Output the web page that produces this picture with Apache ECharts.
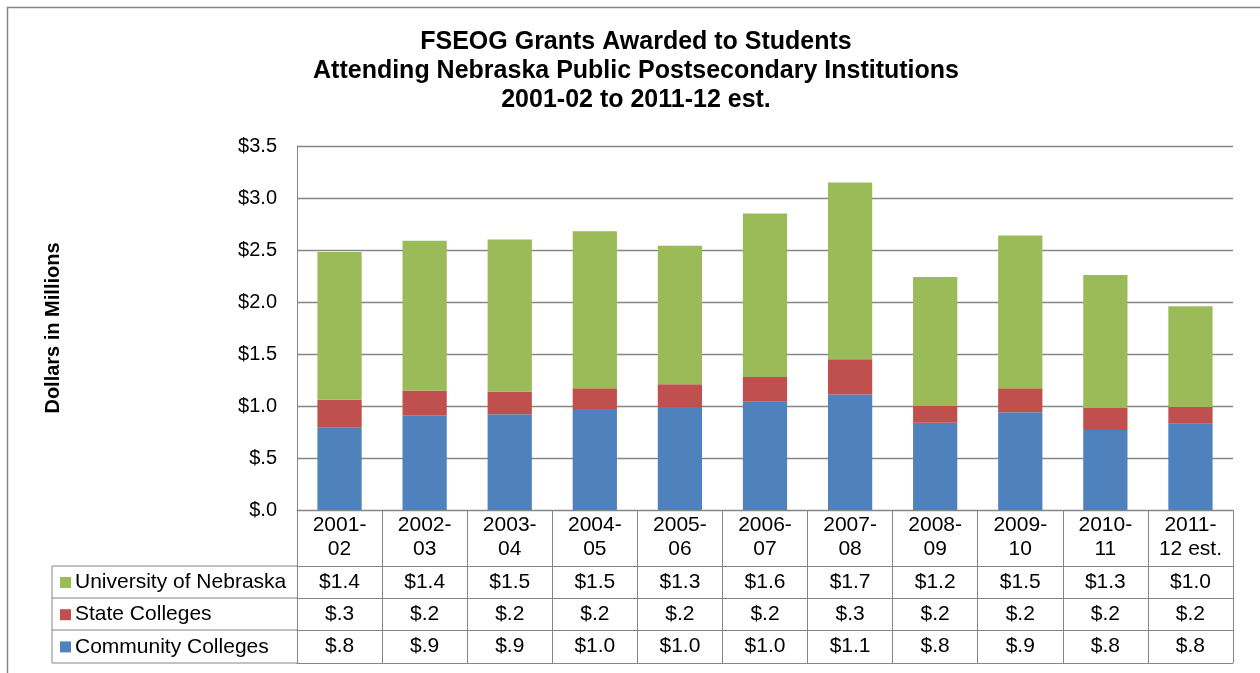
<!DOCTYPE html>
<html>
<head>
<meta charset="utf-8">
<script src="https://cdn.jsdelivr.net/npm/echarts@6/dist/echarts.min.js"></script>
<style>
html,body{margin:0;padding:0;background:#fff;overflow:hidden;}
#chart{width:1260px;height:673px;}
</style>
</head>
<body>
<div id="chart"></div>
<script>
// ---- data (millions of dollars) ----
const categories = ['2001-02','2002-03','2003-04','2004-05','2005-06','2006-07','2007-08','2008-09','2009-10','2010-11','2011-12 est.'];
const communityColleges = [0.79, 0.91, 0.92, 0.97, 0.99, 1.04, 1.11, 0.84, 0.94, 0.77, 0.83];
const stateColleges     = [0.27, 0.24, 0.22, 0.20, 0.22, 0.24, 0.34, 0.16, 0.23, 0.21, 0.16];
const universityNE      = [1.42, 1.44, 1.46, 1.51, 1.33, 1.57, 1.70, 1.24, 1.47, 1.28, 0.97];
const seriesNames = ['University of Nebraska','State Colleges','Community Colleges'];
const yTicks = [0, 0.5, 1.0, 1.5, 2.0, 2.5, 3.0, 3.5];

const FONT = '"Liberation Sans", Arial, sans-serif';
const GRAY = '#868686';
const COLORS = { un:'#9BBB59', sc:'#C0504D', cc:'#4F81BD' };

function money(v){
  const s = v.toFixed(1);
  return '$' + (s.charAt(0) === '0' ? s.slice(1) : s);
}

const chart = echarts.init(document.getElementById('chart'), null, {renderer:'canvas'});

function rowAxis(offset, values, showLabel){
  return {
    type:'category', gridIndex:0, position:'bottom', offset:offset,
    data: categories,
    axisLine:{show:true, lineStyle:{color:GRAY, width:1}},
    axisTick:{show:false},
    splitLine:{show:false},
    axisLabel:{
      show:showLabel, interval:0, margin:6,
      color:'#000', fontFamily:FONT, fontSize:21, lineHeight:20,
      formatter:(val, idx) => values ? money(values[idx]) : ''
    }
  };
}

const option = {
  animation:false,
  backgroundColor:'#fff',
  title:{
    text:'FSEOG Grants Awarded to Students\nAttending Nebraska Public Postsecondary Institutions\n2001-02 to 2011-12 est.',
    left:636, top:28, padding:0, textAlign:'center',
    textStyle:{fontFamily:FONT, fontSize:25, fontWeight:'bold', color:'#000', lineHeight:29}
  },
  legend:{
    orient:'vertical', left:60, top:572, padding:0,
    itemWidth:11, itemHeight:11, itemGap:11.2,
    icon:'rect', selectedMode:false,
    data: seriesNames,
    textStyle:{fontFamily:FONT, fontSize:21, color:'#000', lineHeight:20, padding:[0,0,0,-1]}
  },
  grid:{left:297, right:27, top:146, bottom:163, containLabel:false},
  xAxis:[
    {
      type:'category', gridIndex:0, position:'bottom', data:categories,
      axisLine:{show:true, lineStyle:{color:GRAY, width:1}},
      axisTick:{show:true, interval:0, alignWithLabel:false, inside:false, length:153, lineStyle:{color:GRAY, width:1}},
      axisLabel:{interval:0, margin:3, color:'#000', fontFamily:FONT, fontSize:21, lineHeight:24,
        formatter:(v) => v.replace('-', '-\n')}
    },
    rowAxis(56, universityNE, true),
    rowAxis(88, stateColleges, true),
    rowAxis(120, communityColleges, true),
    rowAxis(153, null, false)
  ],
  yAxis:{
    type:'value', min:0, max:3.5, interval:0.5,
    name:'Dollars in Millions', nameLocation:'middle', nameGap:234, nameRotate:90,
    nameTextStyle:{fontFamily:FONT, fontSize:20, fontWeight:'bold', color:'#000'},
    axisLine:{show:true, lineStyle:{color:GRAY, width:1}},
    axisTick:{show:false},
    splitLine:{show:true, lineStyle:{color:GRAY, width:1.3}},
    axisLabel:{margin:20, color:'#000', fontFamily:FONT, fontSize:20,
      formatter:(v) => money(v)}
  },
  series:[
    {name:'Community Colleges', type:'bar', stack:'total', data:communityColleges, barWidth:'52%',
      itemStyle:{color:COLORS.cc}},
    {name:'State Colleges', type:'bar', stack:'total', data:stateColleges, barWidth:'52%',
      itemStyle:{color:COLORS.sc}},
    {name:'University of Nebraska', type:'bar', stack:'total', data:universityNE, barWidth:'52%',
      itemStyle:{color:COLORS.un}}
  ],
  graphic:[
    // outer frame of the chart area
    {type:'rect', silent:true, shape:{x:7.5, y:7.5, width:1300, height:700},
      style:{fill:null, stroke:GRAY, lineWidth:1.5}},
    // legend column borders of the data table
    {type:'line', silent:true, shape:{x1:52, y1:566, x2:297, y2:566}, style:{stroke:GRAY, lineWidth:1}},
    {type:'line', silent:true, shape:{x1:52, y1:598, x2:297, y2:598}, style:{stroke:GRAY, lineWidth:1}},
    {type:'line', silent:true, shape:{x1:52, y1:630, x2:297, y2:630}, style:{stroke:GRAY, lineWidth:1}},
    {type:'line', silent:true, shape:{x1:52, y1:663, x2:297, y2:663}, style:{stroke:GRAY, lineWidth:1}},
    {type:'line', silent:true, shape:{x1:52, y1:566, x2:52, y2:663}, style:{stroke:GRAY, lineWidth:1}}
  ]
};
chart.setOption(option);
</script>
</body>
</html>
